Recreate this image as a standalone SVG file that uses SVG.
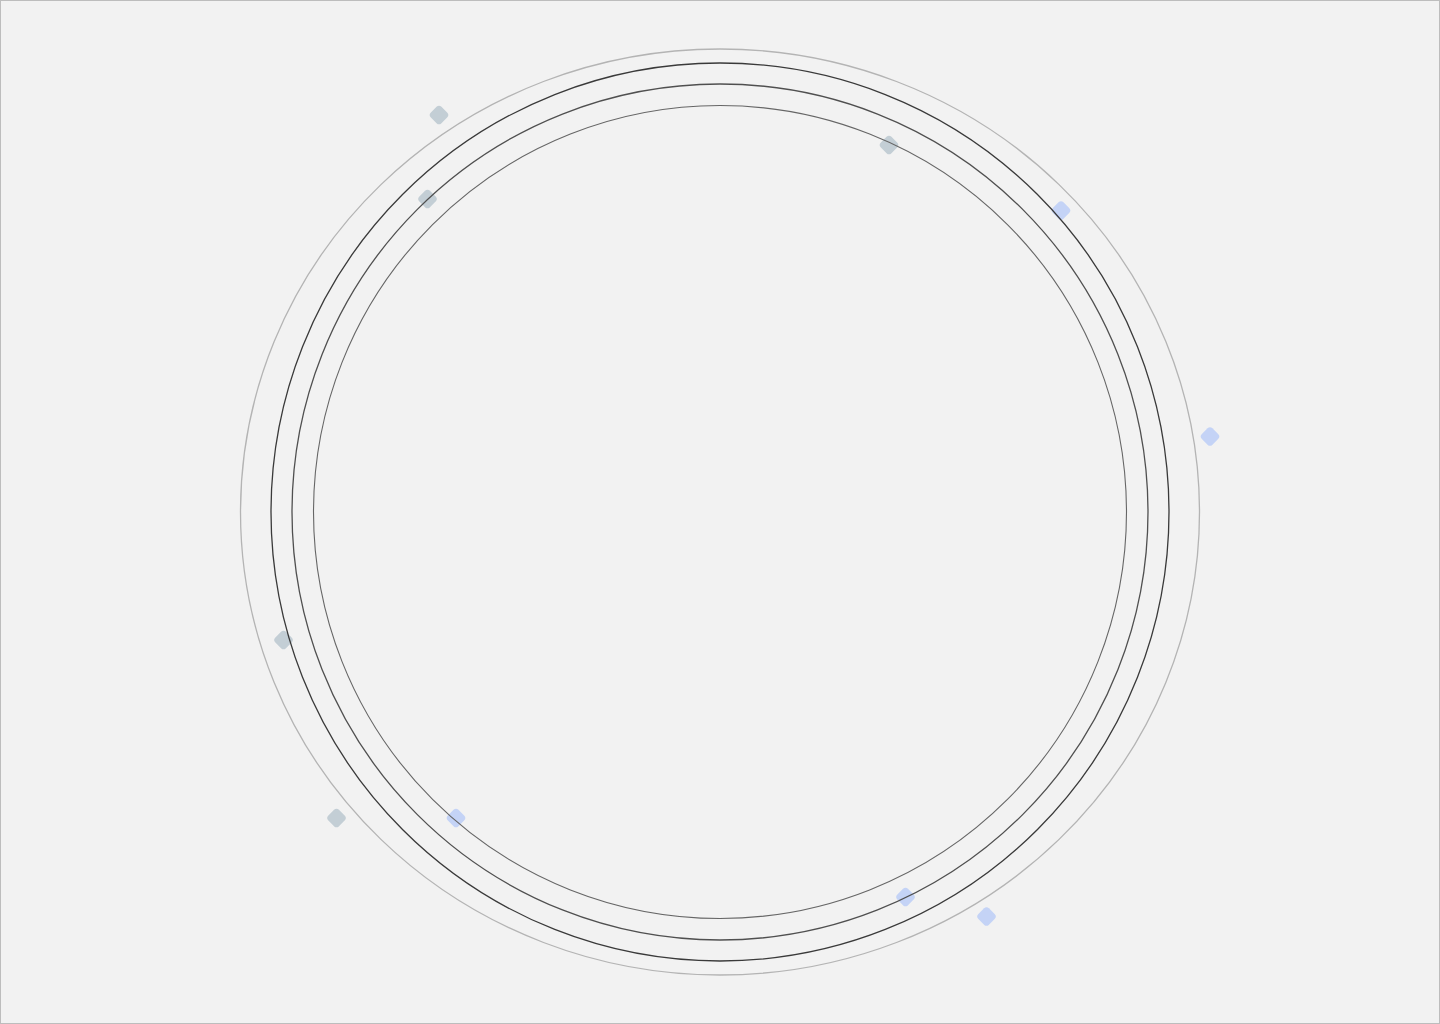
<svg xmlns="http://www.w3.org/2000/svg" width="1440" height="1024" viewBox="0 0 1440 1024">
<defs>
<style>
.ring{fill:none}
.r0{stroke:#b4b4b4;stroke-width:1.3}
.r1{stroke:#3a3a3a;stroke-width:1.3}
.r2{stroke:#505050;stroke-width:1.3}
.r3{stroke:#666;stroke-width:1.1}
.dg{fill:#c3ced5}
.db{fill:#c4d3f6}
</style>
<rect id="dm" x="-7.5" y="-7.5" width="15" height="15" rx="3.5" transform="rotate(45)"/>
</defs>
<rect x="0.5" y="0.5" width="1439" height="1023" fill="#f2f2f2" stroke="#bdbdbd" stroke-width="1"/>
<g id="markers">
<use href="#dm" class="dg" x="439" y="115"/>
<use href="#dm" class="dg" x="427.5" y="199"/>
<use href="#dm" class="dg" x="889" y="145"/>
<use href="#dm" class="db" x="1061" y="210.5"/>
<use href="#dm" class="db" x="1210" y="436.5"/>
<use href="#dm" class="dg" x="283.5" y="640"/>
<use href="#dm" class="dg" x="336.5" y="818"/>
<use href="#dm" class="db" x="456" y="818"/>
<use href="#dm" class="db" x="905.5" y="897"/>
<use href="#dm" class="db" x="986.5" y="916.5"/>
</g>
<g id="rings">
<ellipse class="ring r0" cx="720" cy="512" rx="479.5" ry="463"/>
<circle class="ring r1" cx="720" cy="512" r="449"/>
<circle class="ring r2" cx="720" cy="512" r="428"/>
<circle class="ring r3" cx="720" cy="512" r="406.5"/>
</g>
</svg>
